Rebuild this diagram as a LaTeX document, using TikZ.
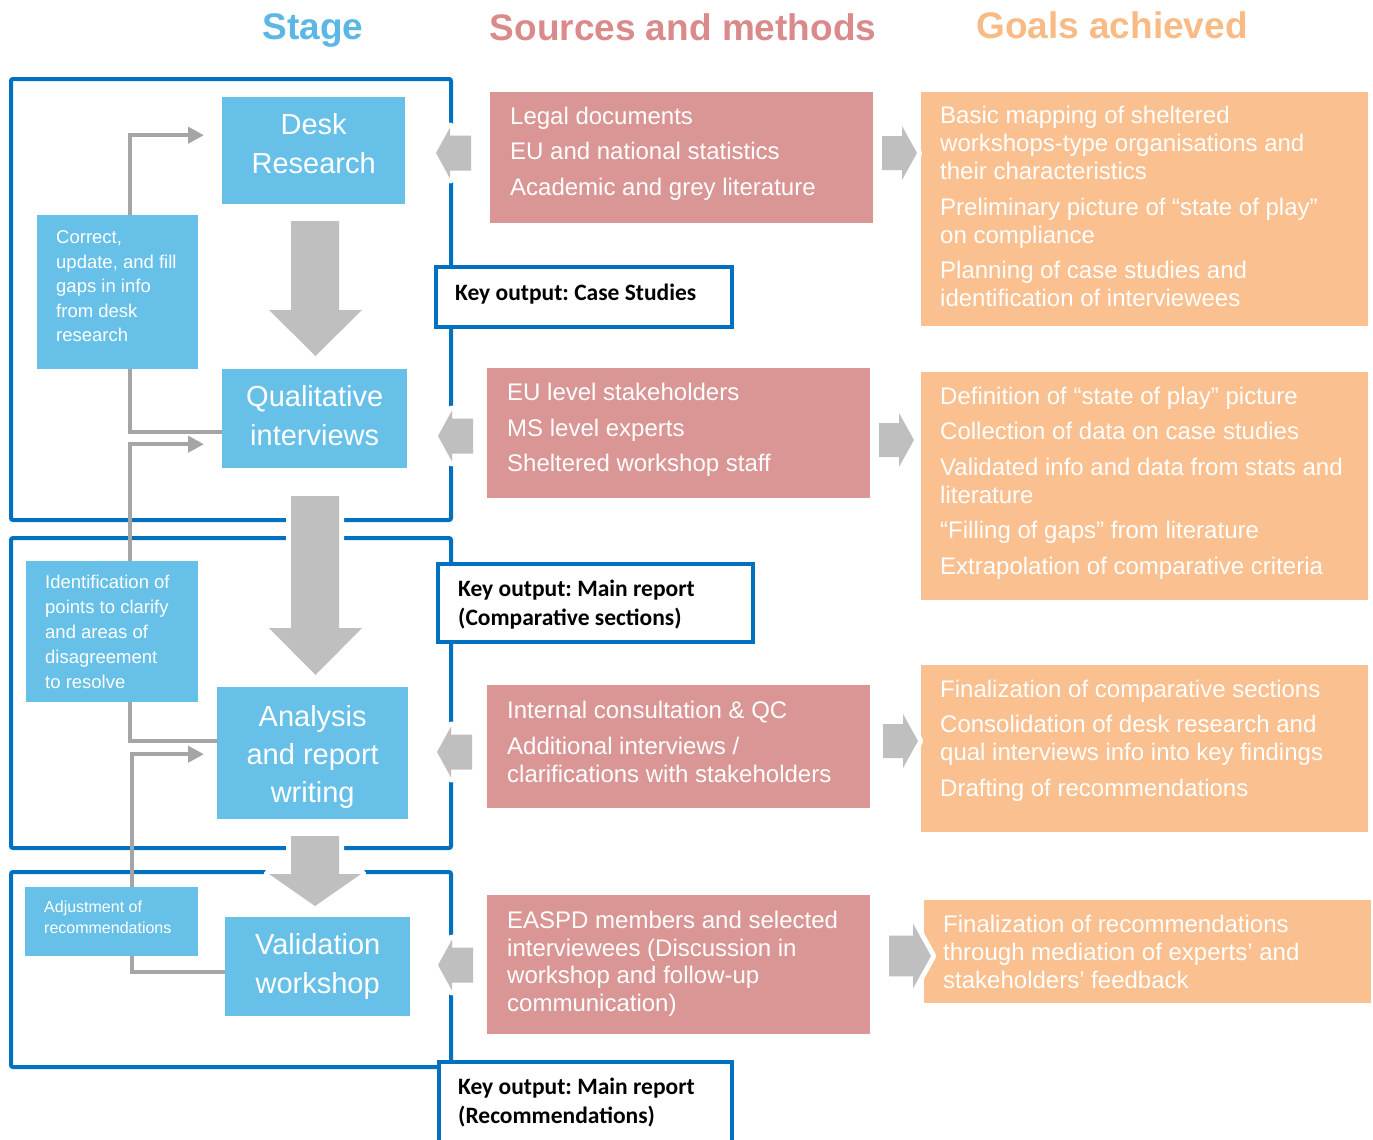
\documentclass[tikz,border=0pt]{standalone}
\usepackage{fontspec}
\setmainfont{Liberation Sans}
\newfontfamily\carlito{Carlito}
\usetikzlibrary{arrows.meta}
\definecolor{frameblue}{RGB}{0,112,192}
\definecolor{boxblue}{RGB}{102,192,232}
\definecolor{pinkbox}{RGB}{217,150,148}
\definecolor{orangebox}{RGB}{250,192,144}
\definecolor{arrgray}{RGB}{191,191,191}
\definecolor{linegray}{RGB}{165,165,165}
\definecolor{titleblue}{RGB}{91,183,230}
\definecolor{titlepink}{RGB}{218,138,139}
\definecolor{titleorange}{RGB}{249,187,133}
\tikzset{
  frame/.style={draw=frameblue, line width=4pt, rounded corners=2pt},
  stagebox/.style={anchor=north west, fill=boxblue, inner sep=0pt},
  stagetext/.style={text=white, align=center, inner sep=0pt, font=\fontsize{29}{39}\selectfont},
  sidebox/.style={anchor=north west, fill=boxblue, inner sep=0pt},
  sidetext/.style={anchor=west, text=white, align=left, inner sep=0pt, font=\fontsize{18.5}{24.5}\selectfont},
  pbox/.style={anchor=north west, fill=pinkbox, inner sep=0pt},
  obox/.style={anchor=north west, fill=orangebox, inner sep=0pt},
  boxtext/.style={anchor=west, text=white, align=left, inner sep=0pt, font=\fontsize{24}{28}\selectfont},
  keybox/.style={anchor=north west, draw=frameblue, line width=4pt, fill=white, inner sep=0pt},
  keytext/.style={anchor=west, text=black, align=left, inner sep=0pt, font=\carlito\bfseries\frenchspacing\fontsize{23.5}{29}\selectfont},
  title/.style={anchor=base, font=\fontsize{37}{44}\selectfont\bfseries},
  gline/.style={draw=linegray, line width=4pt, -{Triangle[length=16pt,width=16pt]}},
  bigarrow/.style={fill=arrgray, preaction={draw=white, line width=10pt, line join=round}},
  larr/.pic={\path[bigarrow] (0,0) -- (14,-25.5) -- (14,-17.5) -- (35,-17.5) -- (35,17.5) -- (14,17.5) -- (14,25.5) -- cycle;},
  rarr/.pic={\path[bigarrow] (0,0) -- (-15,-27) -- (-15,-17) -- (-35,-17) -- (-35,17) -- (-15,17) -- (-15,27) -- cycle;}
}
\begin{document}
\begin{tikzpicture}[x=1pt,y=-1pt]
\useasboundingbox (0,0) rectangle (1373,1140);
\fill[white] (0,0) rectangle (1373,1140);

% titles
\node[title, text=titleblue] (t1) at (313,40) {Stage};
\node[title, text=titlepink] (t2) at (683,41) {Sources and methods};
\node[title, text=titleorange] (t3) at (1112,39) {Goals achieved};

% frames
\draw[frame] (11,79) rectangle (451,520);
\draw[frame] (11,538) rectangle (451,848);
\draw[frame] (11,872) rectangle (451,1067);

% pink boxes
\node[pbox, minimum width=383, minimum height=131] (p1) at (490,92) {};
\node[boxtext] (p1t) at ([xshift=20pt,yshift=4pt]p1.west) {Legal documents\\[7.5pt]EU and national statistics\\[7.5pt]Academic and grey literature};
\node[pbox, minimum width=383, minimum height=130] (p2) at (487,368) {};
\node[boxtext] (p2t) at ([xshift=20pt,yshift=3pt]p2.west) {EU level stakeholders\\[7.5pt]MS level experts\\[7.5pt]Sheltered workshop staff};
\node[pbox, minimum width=383, minimum height=123] (p3) at (487,685) {};
\node[boxtext] (p3t) at ([xshift=20pt,yshift=5pt]p3.west) {Internal consultation \& QC\\[7.5pt]Additional interviews /\\clarifications with stakeholders};
\node[pbox, minimum width=383, minimum height=139] (p4) at (487,895) {};
\node[boxtext, font=\fontsize{24}{27.4}\selectfont] (p4t) at ([xshift=20pt,yshift=1pt]p4.west) {EASPD members and selected\\interviewees (Discussion in\\workshop and follow-up\\communication)};

% orange boxes
\node[obox, minimum width=447, minimum height=234] (o1) at (921,92) {};
\node[boxtext] (o1t) at ([xshift=19pt,yshift=2.5pt]o1.west) {Basic mapping of sheltered\\workshops-type organisations and\\their characteristics\\[7.5pt]Preliminary picture of “state of play”\\on compliance\\[7.5pt]Planning of case studies and\\identification of interviewees};
\node[obox, minimum width=447, minimum height=228] (o2) at (921,372) {};
\node[boxtext] (o2t) at ([xshift=19pt,yshift=3pt]o2.west) {Definition of “state of play” picture\\[7.5pt]Collection of data on case studies\\[7.5pt]Validated info and data from stats and\\literature\\[7.5pt]“Filling of gaps” from literature\\[7.5pt]Extrapolation of comparative criteria};
\node[obox, minimum width=447, minimum height=167] (o3) at (921,665) {};
\node[boxtext] (o3t) at ([xshift=19pt,yshift=8pt]o3.west) {Finalization of comparative sections\\[7.5pt]Consolidation of desk research and\\qual interviews info into key findings\\[7.5pt]Drafting of recommendations};
\node[obox, minimum width=447, minimum height=103] (o4) at (924,900) {};
\node[boxtext] (o4t) at ([xshift=19pt]o4.west) {Finalization of recommendations\\through mediation of experts’ and\\stakeholders’ feedback};

% side arrows (sources -> stage, sources -> goals)
\pic at (436,153) {larr};
\pic at (438,436) {larr};
\pic at (437,752) {larr};
\pic at (438,965) {larr};
\pic at (917,153) {rarr};
\pic at (914,440) {rarr};
\pic at (918,741) {rarr};
\pic[scale=1.2] at (931,956) {rarr};

% big down arrows
\path[bigarrow] (291,221) -- (339,221) -- (339,310) -- (362,310) -- (315.5,356) -- (269,310) -- (291,310) -- cycle;
\path[bigarrow] (291,496) -- (339,496) -- (339,628) -- (362,628) -- (315.5,675) -- (269,628) -- (291,628) -- cycle;
\path[bigarrow] (291,836) -- (339,836) -- (339,874) -- (361,874) -- (315,906) -- (269,874) -- (291,874) -- cycle;

% stage boxes
\node[stagebox, minimum width=183, minimum height=107] (desk) at (222,97) {};
\node[stagetext] (deskt) at ([yshift=7pt]desk.center) {Desk\\Research};
\node[stagebox, minimum width=185, minimum height=99] (qual) at (222,369) {};
\node[stagetext] (qualt) at ([yshift=3pt]qual.center) {Qualitative\\interviews};
\node[stagebox, minimum width=191, minimum height=132] (ana) at (217,687) {};
\node[stagetext, font=\fontsize{29}{38}\selectfont] (anat) at ([yshift=-4pt]ana.center) {Analysis\\and report\\writing};
\node[stagebox, minimum width=185, minimum height=99] (val) at (225,917) {};
\node[stagetext] (valt) at (val.center) {Validation\\workshop};

% feedback connectors
\draw[gline] ([yshift=-13pt]qual.west) -| ([xshift=-92pt,yshift=15.5pt]desk.west) -- ([xshift=-18pt,yshift=15.5pt]desk.west);
\draw[gline] ([yshift=12pt]ana.west) -| ([xshift=-92pt,yshift=-25.5pt]qual.west) -- ([xshift=-18pt,yshift=-25.5pt]qual.west);
\draw[gline] ([yshift=-5.5pt]val.west) -| ([xshift=-85pt,yshift=-1pt]ana.west) -- ([xshift=-13pt,yshift=-1pt]ana.west);

% side boxes
\node[sidebox, minimum width=161, minimum height=154] (corr) at (37,215) {};
\node[sidetext] (corrt) at ([xshift=19pt,yshift=6pt]corr.west) {Correct,\\update, and fill\\gaps in info\\from desk\\research};
\node[sidebox, minimum width=172, minimum height=141] (ident) at (26,561) {};
\node[sidetext, font=\fontsize{18.5}{25}\selectfont] (identt) at ([xshift=19pt]ident.west) {Identification of\\points to clarify\\and areas of\\disagreement\\to resolve};
\node[sidebox, minimum width=173, minimum height=69] (adj) at (25,887) {};
\node[sidetext, font=\fontsize{16}{21}\selectfont] (adjt) at ([xshift=19pt,yshift=4pt]adj.west) {Adjustment of\\recommendations};

% key outputs
\node[keybox, minimum width=296, minimum height=60] (k1) at (434,265) {};
\node[keytext] (k1t) at ([xshift=21pt,yshift=3pt]k1.west) {Key output: Case Studies};
\node[keybox, minimum width=315, minimum height=78] (k2) at (436,562) {};
\node[keytext] (k2t) at ([xshift=22pt,yshift=-2pt]k2.west) {Key output: Main report\\(Comparative sections)};
\node[keybox, minimum width=293, minimum height=90] (k3) at (437,1060) {};
\node[keytext] (k3t) at ([xshift=21pt,yshift=4pt]k3.west) {Key output: Main report\\(Recommendations)};
\end{tikzpicture}
\end{document}
